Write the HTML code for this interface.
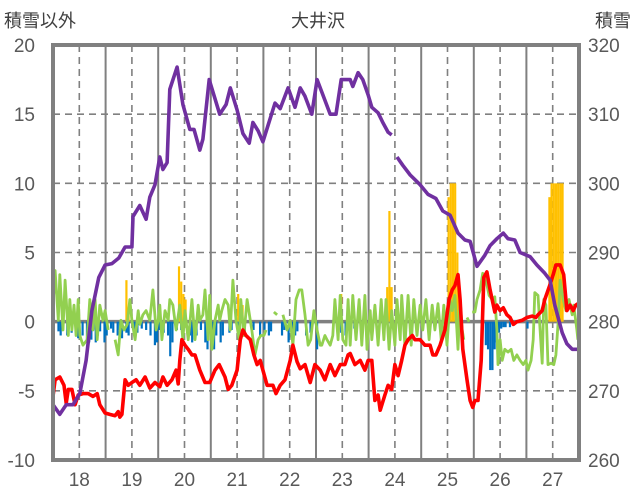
<!DOCTYPE html>
<html><head><meta charset="utf-8"><style>
html,body{margin:0;padding:0;background:#fff;}
svg{display:block;font-family:"Liberation Sans","Noto Sans CJK JP",sans-serif;}
</style></head><body>
<svg id="chart" width="636" height="501" viewBox="0 0 636 501">
<text x="4" y="27" font-size="18" fill="#404040">積雪以外</text>
<text x="318" y="27" font-size="18" fill="#404040" text-anchor="middle">大井沢</text>
<text x="631" y="27" font-size="18" fill="#404040" text-anchor="end">積雪</text>
<g id="grid"></g>
<g id="bars"></g>
<g id="lines"></g>
<g id="axes"></g>
</svg>
<script>
const leftTicks=[20,15,10,5,0,-5,-10];
const rightTicks=[320,310,300,290,280,270,260];
const dayLabels=["18","19","20","21","22","23","24","25","26","27"];
// snow depth (cm), [day offset from 18th 00:00, value]
const snowPoints=[[0,268],[.13,266.6],[.25,268],[.38,268],[.51,269.6],[.63,274.4],[.74,281.6],[.87,286.4],[.99,288.2],[1.12,288.4],[1.25,289.2],[1.37,290.8],[1.5,290.8],[1.52,295.2],[1.65,296.8],[1.77,294.8],[1.84,298],[1.94,299.8],[2.03,303.8],[2.09,302],[2.17,303],[2.22,313.6],[2.36,316.8],[2.47,311.4],[2.6,307.8],[2.68,307.8],[2.79,304.8],[2.85,306.4],[2.97,315],[3.17,310],[3.29,311.4],[3.37,313.8],[3.5,310.6],[3.61,307.2],[3.73,305.8],[3.8,308.8],[3.9,307.6],[3.99,306],[4.09,308.4],[4.22,311.6],[4.32,310.8],[4.47,313.8],[4.6,311],[4.7,313.8],[4.79,312.6],[4.92,310],[5.02,315],[5.11,313.2],[5.27,310],[5.38,310],[5.48,315],[5.65,315],[5.7,314],[5.8,316],[5.89,315],[5.99,312.8],[6.06,311],[6.18,310.2],[6.27,308.8],[6.37,307.4],[6.44,307],[6.49,null],[6.54,303.8],[6.65,302.6],[6.79,301.2],[6.98,299.8],[7.13,298.4],[7.28,297.8],[7.41,296],[7.55,295.4],[7.7,292.8],[7.83,291.8],[7.93,291.6],[8.06,288],[8.21,289.6],[8.31,291],[8.44,292],[8.56,292.8],[8.65,292],[8.78,291.8],[8.88,290],[9.07,289.4],[9.2,288.2],[9.35,287],[9.45,286],[9.54,282.4],[9.68,278.4],[9.77,276.8],[9.87,276],[9.98,276]];
// temperature-like series (left axis)
const tempPoints=[[0,-5.4],[.04,-4.2],[.13,-4],[.21,-4.6],[.25,-5.9],[.29,-4.9],[.36,-4.9],[.42,-6],[.48,-5.3],[.57,-5.2],[.67,-5.2],[.76,-5.4],[.84,-5.2],[.89,-6],[.99,-6.6],[1.08,-6.7],[1.18,-6.8],[1.24,-6.5],[1.27,-6.9],[1.31,-6.7],[1.37,-4.2],[1.43,-4.6],[1.5,-4.4],[1.58,-4.2],[1.65,-4.6],[1.75,-4],[1.84,-4.8],[1.94,-4.4],[2.03,-4.7],[2.09,-4],[2.17,-4.6],[2.26,-4.2],[2.34,-3.5],[2.38,-4.5],[2.41,-2.8],[2.45,-1.3],[2.51,-1.7],[2.57,-2],[2.64,-2.4],[2.7,-2.4],[2.79,-3.5],[2.89,-4.4],[2.98,-4.4],[3.08,-3.5],[3.16,-3.1],[3.27,-4],[3.33,-4.9],[3.4,-4.6],[3.5,-3.5],[3.56,-1.3],[3.61,-.6],[3.67,-1],[3.75,-1.3],[3.82,-2.4],[3.88,-3.1],[3.94,-2.8],[3.99,-3.5],[4.07,-4.6],[4.18,-4.6],[4.24,-5.2],[4.32,-4.6],[4.41,-4.2],[4.51,-2.8],[4.56,-1.7],[4.64,-2.9],[4.7,-3.4],[4.79,-3.1],[4.89,-4.4],[4.98,-3.1],[5.08,-3.5],[5.17,-4.2],[5.27,-3.1],[5.36,-3.9],[5.46,-3.1],[5.55,-3.1],[5.61,-2.4],[5.65,-2.3],[5.74,-3.1],[5.84,-2.8],[5.93,-3.5],[5.99,-2.8],[6.06,-2.8],[6.12,-5.7],[6.18,-5.3],[6.22,-6.4],[6.31,-5.3],[6.37,-4.6],[6.44,-4.9],[6.5,-3.1],[6.56,-3.9],[6.63,-2.8],[6.69,-1.7],[6.75,-1.3],[6.83,-1],[6.88,-1.3],[6.98,-1.3],[7.07,-1.7],[7.17,-1.7],[7.22,-2.4],[7.28,-2.4],[7.36,-1.7],[7.45,-.6],[7.53,1.6],[7.59,2.3],[7.64,2.6],[7.7,3.4],[7.74,1.6],[7.79,-2],[7.87,-4.2],[7.93,-5.7],[7.98,-6.2],[8.02,-5.7],[8.08,-5.7],[8.14,-2.8],[8.19,3.2],[8.25,3.6],[8.31,2.3],[8.4,.7],[8.44,1.2],[8.5,.8],[8.56,1],[8.63,.5],[8.69,.3],[8.75,-.2],[8.82,0],[8.92,.1],[9.01,.3],[9.11,.4],[9.18,.3],[9.22,.5],[9.3,.8],[9.35,1.6],[9.45,2.7],[9.51,3.4],[9.56,4.1],[9.64,4.1],[9.71,3.4],[9.77,.8],[9.83,1.2],[9.89,.8],[9.94,1.2],[9.98,1.3]];
// wind-like series (left axis)
const windPoints=[[0,1.2],[.04,3.7],[.1,.1],[.13,3.4],[.19,-.6],[.23,3],[.29,-1],[.32,1.6],[.36,-.6],[.4,1.2],[.44,-1],[.48,1.6],[.51,-1],[.57,-1.7],[.65,-1.3],[.7,1.6],[.76,-.6],[.8,1.6],[.84,-1.3],[.89,1.2],[.95,.1],[.99,.8],[1.05,-.6],[1.08,null],[1.18,-1.3],[1.24,-2.4],[1.29,.1],[1.35,-.6],[1.41,-.2],[1.46,1.6],[1.5,.1],[1.56,-1.3],[1.62,.8],[1.65,-.2],[1.71,.5],[1.77,.8],[1.84,.1],[1.9,2.3],[1.96,-.6],[2,.1],[2.03,1.2],[2.07,-1.3],[2.13,.8],[2.19,.1],[2.22,1.6],[2.28,1.2],[2.34,-.6],[2.41,1.2],[2.47,-1.3],[2.51,.8],[2.57,-1.3],[2.6,-.2],[2.64,1.6],[2.7,-1.3],[2.76,1.2],[2.79,.1],[2.85,.5],[2.89,2.3],[2.95,-1.3],[2.98,1.9],[3.02,-2],[3.08,.1],[3.14,1.2],[3.17,.1],[3.21,.8],[3.27,1.6],[3.33,1.2],[3.37,-.6],[3.42,3],[3.48,.1],[3.54,-1.3],[3.57,1.6],[3.63,-1],[3.69,1.6],[3.75,.1],[3.78,-.6],[3.84,-2.4],[3.9,-1.3],[3.95,-1],[4.01,-1],[4.05,-.6],[4.1,null],[4.2,.7],[4.26,.5],[4.3,null],[4.37,.5],[4.45,-.6],[4.51,.1],[4.56,-1.7],[4.62,1.6],[4.68,2.3],[4.73,2.3],[4.79,.5],[4.85,-1.7],[4.9,-1.3],[4.96,.8],[5.02,-.6],[5.08,-1.7],[5.11,-1.7],[5.17,-1],[5.21,-1.3],[5.27,-1.7],[5.32,-1],[5.36,1.6],[5.42,-1.3],[5.46,1.9],[5.51,-1.3],[5.57,-1.7],[5.61,1.6],[5.65,-1.7],[5.7,1.9],[5.76,-1.3],[5.82,1.6],[5.87,-1.7],[5.93,1.9],[5.97,-2],[6.03,.8],[6.06,-1.3],[6.12,1.2],[6.18,-1.7],[6.24,1.6],[6.29,-1.3],[6.33,1.6],[6.39,-2],[6.44,.8],[6.5,-1.7],[6.54,1.6],[6.6,-1.3],[6.63,1.9],[6.69,-1.7],[6.75,1.9],[6.81,-1.7],[6.86,1.6],[6.92,-1],[6.98,1.2],[7.03,-.6],[7.09,1.6],[7.15,-1.3],[7.21,1.2],[7.26,-.6],[7.32,1.3],[7.38,-1.3],[7.43,1.2],[7.49,-1.7],[7.55,1.6],[7.59,.8],[7.64,1.9],[7.7,-2],[7.74,1.6],[7.78,-.6],[7.81,-1.3],[7.84,null],[7.87,.3],[7.91,0],[7.93,null],[7.97,.7],[8.02,.7],[8.06,1.6],[8.12,2.3],[8.17,3.5],[8.23,3],[8.29,1.9],[8.35,1.6],[8.4,1.8],[8.44,-.6],[8.46,-3.1],[8.5,-1.3],[8.54,-2.8],[8.59,-2],[8.65,-2.2],[8.71,-2],[8.76,-2.8],[8.82,-2.4],[8.88,-2.8],[8.94,-3.1],[8.99,-2.8],[9.03,-3.5],[9.09,-2.8],[9.13,-1.3],[9.16,2.1],[9.22,1.9],[9.26,-.6],[9.3,-3],[9.33,1.6],[9.37,1.2],[9.41,-3.1],[9.47,-3],[9.52,-3.1],[9.56,-2.4],[9.6,-.2],[9.64,3],[9.7,1.6],[9.75,.8],[9.81,1.6],[9.87,.5],[9.9,1.2],[9.96,-.6],[9.98,-1.3]];
// hourly bars: [hour index from 18th 00:00, value]
const precipBars=[[33,3],[34,1],[57,4],[58,2.9],[59,2],[60,1.6],[84,2],[86,1.2],[131,2],[152,2.5],[153,8],[154,2.5],[180,9],[181,10],[182,10],[183,10],[184,5],[226,9],[227,10],[228,10],[229,10],[230,10],[231,10],[232,10]];
const negBars=[[2,-.7],[3,-1],[4,-.5],[6,-1],[8,-.8],[10,-1],[11,-1.2],[13,-1],[15,-1.4],[16,-1.5],[17,-1.3],[19,-1.5],[20,-1],[21,-.7],[23,-1.5],[24,-1],[26,-.5],[27,-.8],[29,-1],[30,-.6],[31,-1.2],[33,-.8],[34,-1],[36,-.5],[37,-1.3],[38,-.8],[40,-.5],[42,-.6],[44,-1],[46,-1.7],[47,-1.5],[48,-.6],[50,-.8],[52,-1],[53,-2.5],[54,-1.5],[56,-.6],[58,-.6],[62,-1],[63,-1.5],[65,-1],[67,-.6],[69,-1.5],[70,-2],[72,-1.5],[73,-2],[74,-1],[76,-1.5],[77,-1],[80,-.8],[81,-.6],[84,-.5],[87,-1],[91,-.6],[94,-1],[96,-.6],[98,-1],[99,-.7],[104,-1],[105,-.6],[107,-1.5],[109,-1.5],[110,-1],[111,-.7],[115,-1],[117,-.8],[120,-2],[130,-.5],[131,-.8],[133,-1],[134,-.6],[137,-.5],[197,-1.7],[198,-2],[199,-3.5],[200,-3.5],[201,-2],[202,-1.5],[203,-.8],[204,-.5],[205,-.4],[206,-.4],[208,-.4],[216,-.5]];

const NS="http://www.w3.org/2000/svg";
const X0=53,X1=579,Y0=45,Y1=460;
function xDay(t){return X0+t*(X1-X0)/10;}
function yL(v){return Y1-(v+10)*(Y1-Y0)/30;}
function yR(v){return Y1-(v-260)*(Y1-Y0)/60;}
function mk(tag,attrs,parent){const e=document.createElementNS(NS,tag);for(const k in attrs)e.setAttribute(k,attrs[k]);parent.appendChild(e);return e;}
const grid=document.getElementById('grid'),bars=document.getElementById('bars'),lines=document.getElementById('lines'),axes=document.getElementById('axes');
// horizontal grid
leftTicks.forEach(v=>{
  if(v===20||v===-10)return;
  const g=mk('line',{x1:X0,x2:X1,y1:yL(v),y2:yL(v),stroke:'#808080','stroke-width':v===0?3.5:1.6,'stroke-dasharray':v===0?'':'7,5'},grid);
  
  
});
for(let d=0;d<10;d++){
  if(d>0){const s=mk('line',{x1:xDay(d),x2:xDay(d),y1:Y0,y2:Y1,stroke:'#808080','stroke-width':2},grid);
  
  }
  const n=mk('line',{x1:xDay(d+.5),x2:xDay(d+.5),y1:Y0,y2:Y1,stroke:'#808080','stroke-width':1.6,'stroke-dasharray':'7,5'},grid);
  
  
}
const bw=(X1-X0)/240;
precipBars.forEach(b=>{
  const x=xDay(b[0]/24);
  const r=mk('rect',{x:x,y:yL(b[1]),width:bw,height:yL(0)-yL(b[1]),fill:'#FFC000'},bars);
  
  
});
negBars.forEach(b=>{
  const x=xDay(b[0]/24);
  const r=mk('rect',{x:x,y:yL(0),width:bw,height:yL(b[1])-yL(0),fill:'#0070C0'},bars);
  
  
});
function pathOf(pts,yf){let d='',pen=false;pts.forEach(p=>{if(p[1]===null){pen=false;return;}d+=(pen?'L':'M')+xDay(p[0]).toFixed(1)+','+yf(p[1]).toFixed(1);pen=true;});return d;}
const gp=mk('path',{d:pathOf(windPoints,yL),fill:'none',stroke:'#92D050','stroke-width':2.8,'stroke-linejoin':'round'},lines);


const rp=mk('path',{d:pathOf(tempPoints,yL),fill:'none',stroke:'#FF0000','stroke-width':3.6,'stroke-linejoin':'round'},lines);


const pp=mk('path',{d:pathOf(snowPoints,yR),fill:'none',stroke:'#7030A0','stroke-width':3.6,'stroke-linejoin':'round'},lines);


// frame
const fr=mk('rect',{x:X0,y:Y0,width:X1-X0,height:Y1-Y0,fill:'none',stroke:'#808080','stroke-width':4},axes);


leftTicks.forEach(v=>{
  const t=mk('text',{x:35,y:yL(v)+7,'font-size':19,fill:'#595959','text-anchor':'end'},axes);
  t.textContent=String(v);
  
  
});
rightTicks.forEach(v=>{
  const t=mk('text',{x:588,y:yR(v)+7,'font-size':19,fill:'#595959'},axes);
  t.textContent=String(v);
  
  
});
dayLabels.forEach((s,i)=>{
  const t=mk('text',{x:xDay(i+.5),y:486,'font-size':19,fill:'#595959','text-anchor':'middle'},axes);
  t.textContent=s;
  
  
});
</script>
</body></html>
